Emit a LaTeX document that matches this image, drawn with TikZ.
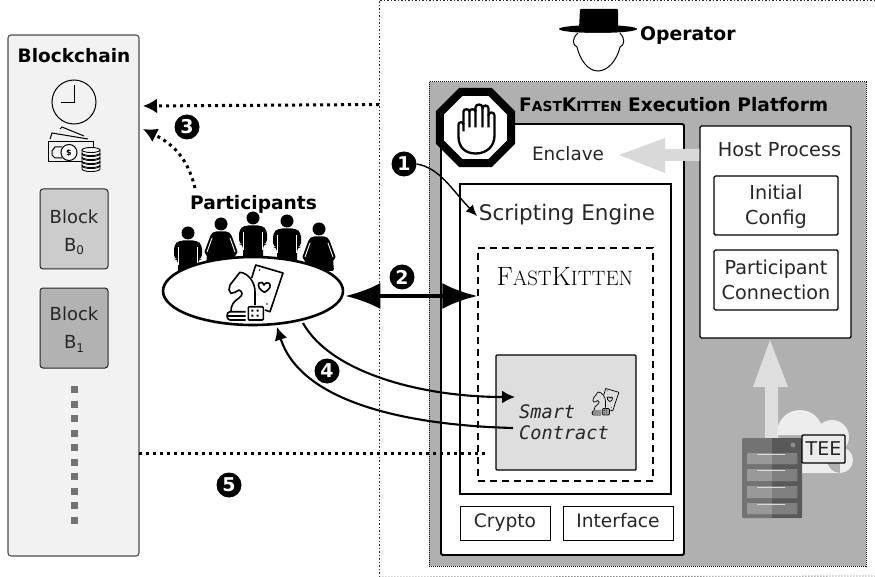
\documentclass[tikz,border=0pt]{standalone}
\usepackage{fontspec}
\setmainfont{DejaVu Sans}
\setmonofont{DejaVu Sans Mono}
\newfontfamily\lmfont{Latin Modern Roman}
\usetikzlibrary{arrows.meta,shapes.geometric,calc}
\definecolor{plat}{HTML}{B0B0B0}
\newcommand\fsz[1]{\fontsize{#1}{#1}\selectfont}
\newcommand\subd[1]{\raisebox{-3.5pt}{\fontsize{12}{12}\selectfont #1}}
\newcommand\icw{1.6pt}
\tikzset{
  box/.style={draw=black,line width=1.4pt,fill=white,rounded corners=1.5pt,inner sep=0pt},
  wbox/.style={box,align=center,text=black!85},
  blockbox/.style={draw=black!85,line width=1pt,fill=#1,rounded corners=3pt,minimum width=68pt,minimum height=80pt,inner sep=0pt},
  blocktxt/.style={align=center,inner sep=0pt,font=\fontsize{18}{28}\selectfont,text=black!85},
  smallbox/.style={box,rounded corners=0pt,line width=1pt,font=\fsz{18.6},text=black!85,minimum height=34pt,text height=13pt,text depth=5pt},
  numc/.style={circle,fill=black,text=white,inner sep=0pt,minimum size=25pt,font=\fontsize{19}{19}\selectfont\bfseries},
  conn/.style={draw=black,line width=2.1pt,-{Latex[length=13pt,width=13pt]}},
  dotline/.style={draw=black,line width=3pt,dash pattern=on 3pt off 4pt,-{Latex[length=14pt,width=15pt]}},
  man/.pic={
    \fill (0,0) circle (6.5);
    \fill[rounded corners=4pt] (-14,26) -- (-14,12) -- (-9,7.5) -- (9,7.5) -- (14,12) -- (14,26) -- (10,26) -- (10,45) -- (-10,45) -- (-10,26) -- cycle;
    \draw[white,line width=0.9pt] (-9.5,14) -- (-9.5,32) (9.5,14) -- (9.5,32);
  },
  woman/.pic={
    \fill (0,0) circle (6.5);
    \fill[rounded corners=2pt] (-7,7.5) -- (7,7.5) -- (10,10) -- (17,29) -- (14,30) -- (15,42) -- (-15,42) -- (-14,30) -- (-17,29) -- (-10,10) -- cycle;
    \draw[white,line width=0.9pt] (-9,14) -- (-14,28) (9,14) -- (14,28);
  },
  gameicon/.pic={
    \draw[line width=\icw,line join=round] (-1.3,-12) -- (2.7,-25) -- (30,-17) -- (17,21.7) -- (12,20);
    \fill (6.5,-20) circle (0.9) (14,14) circle (0.9);
    \draw[line width=\icw,line join=round] (11.3,2.3) .. controls (7,0) and (4,-4) .. (6,-7) .. controls (8,-9) and (11,-7) .. (11,-5) .. controls (12,-8) and (17,-8) .. (17,-5) .. controls (18,-2) and (14,1) .. (11.3,2.3) -- cycle;
    \draw[line width=\icw,line join=round] (2,15) -- (2,1.7) .. controls (2,-8) and (-5,-17) .. (-13,-17.7) -- (-14.7,-15.7) -- (-23,-5) -- (-24,0) -- (-22,3.3) -- (-18,2.3) -- (-14,0) .. controls (-10,2) and (-10,5) .. (-14,8) .. controls (-19,11) and (-22,15) .. (-22,21);
    \draw[line width=\icw,line join=round] (-7.3,21.7) -- (-23,21.7) .. controls (-27,21.7) and (-27,30) .. (-23,30) -- (-7.3,30) (-25,26) -- (-7.3,26);
    \draw[line width=\icw,fill=\dicefill,rounded corners=1pt] (-4.7,16.7) rectangle (10.3,30);
    \fill (-1.7,19.7) rectangle (0.3,21.7) (3.7,19.7) rectangle (5.7,21.7) (-1.7,24.7) rectangle (0.3,26.7) (3.7,24.7) rectangle (5.7,26.7);
  },
}
\newcommand\dicefill{white}
\begin{document}
\begin{tikzpicture}[x=1pt,y=-1pt]
\useasboundingbox (0,0) rectangle (875,577);
% operator frame
\coordinate (fa) at (379,577); \coordinate (fb) at (379,0.6); \coordinate (fc) at (875,0.6); \coordinate (fd) at (875,576);
\draw[black!85,line width=1pt,dash pattern=on 1.5pt off 2pt] (fa) -- (fb) -- (fc);
\draw[black!45,line width=0.8pt,dash pattern=on 1.5pt off 1.5pt] (fa) -- (fd);
% blockchain
\node[draw=black!70,line width=1.1pt,fill=black!5,rounded corners=3pt,minimum width=131pt,minimum height=521pt,inner sep=0pt] (bc) at (73.5,295.5) {};
\node[font=\fontsize{18.5}{18.5}\selectfont\bfseries,inner sep=0pt] (bct) at (74,56) {Blockchain};
\node[draw=black,line width=1pt,circle,minimum size=44pt,inner sep=0pt] (clk) at (74,102) {};
\draw[line width=1pt] (74,85) -- (74,103) -- (61,103);
% money
\draw[line width=1pt] (50,139) -- (52,133) -- (88,139);
\draw[line width=1pt] (60,129) -- (62,127) -- (84,136);
\draw[line width=1pt] (93,147) -- (93,142) -- (48,142) -- (48,162) -- (83,162);
\draw[line width=1pt] (62,147) -- (55,147) -- (52,151) -- (52,155) -- (55,158) -- (62,158);
\draw[line width=1pt,fill=white] (69,152.5) circle (8);
\node[font=\fontsize{8}{8}\selectfont\bfseries,inner sep=0pt] (dol) at (69,153) {\$};
\foreach \y in {166,162,158,154,150}{ \draw[line width=0.9pt,fill=white] (82,\y) -- (82,\y+3) arc[start angle=180,end angle=360,x radius=9,y radius=-2.5] -- (100,\y) ; \draw[line width=0.9pt,fill=white] (91,\y) ellipse (9 and 2.5);}
\node[blockbox=black!20] (b0) at (74,229) {};
\node[blocktxt] (bt0) at (74,232) {Block\\B\subd{0}};
\node[blockbox=black!30] (b1) at (74,328) {};
\node[blocktxt] (bt1) at (74,329.5) {Block\\B\subd{1}};
\coordinate (da) at (74,386); \coordinate (db) at (74,525);
\draw[black!55,line width=7pt,dash pattern=on 7pt off 7.5pt] (da) -- (db);
% platform
\node[draw=black,line width=1pt,densely dotted,fill=plat,minimum width=437pt,minimum height=484pt,inner sep=0pt] (pf) at (647.5,324) {};
\node[anchor=west,inner sep=0pt,font=\bfseries] (pft) at (519,105) {\fsz{18.6}F\fsz{13.8}AST\fsz{18.6}K\fsz{13.8}ITTEN\fsz{18.6}\ Execution Platform};
% operator
\fill[black,rounded corners=1pt] (579,29) -- (580,9) -- (618,9) -- (618,29) -- cycle;
\fill[black] (598,29) ellipse (39 and 4);
\draw[line width=1pt,fill=white] (578,33) .. controls (572,38) and (572,45) .. (577,47) .. controls (580,60) and (588,71) .. (598,71) .. controls (608,71) and (617,60) .. (620,47) .. controls (625,45) and (625,38) .. (620,33);
\node[anchor=west,inner sep=0pt,font=\fontsize{18.8}{18.8}\selectfont\bfseries] (opt) at (640,35) {Operator};
% enclave
\node[box,minimum width=243pt,minimum height=431pt,line width=1.8pt] (enc) at (562.5,339.5) {};
\node[font=\fsz{18.4},text=black!85,inner sep=0pt] (enct) at (568,154) {Enclave};
\node[box,minimum width=151pt,minimum height=212pt] (host) at (775.5,232) {};
\node[font=\fsz{19.3},text=black!85,inner sep=0pt] (hostt) at (779.5,150) {Host Process};
\node[box,minimum width=124pt,minimum height=59pt] (ini) at (776,205.5) {};
\node[align=center,inner sep=0pt,text=black!85,font=\fontsize{19.2}{25}\selectfont] (init) at (776,207) {Initial\\Config};
\node[wbox,minimum width=124pt,minimum height=60pt,font=\fontsize{19.2}{25}\selectfont] (pc) at (776,280) {Participant\\Connection};
% gray arrow host to enclave
\fill[black!15] (host.west |- 0,149) -- (665,149) -- (665,138) -- (619,155) -- (665,173) -- (665,161) -- (host.west |- 0,161) -- cycle;
% stop sign
\node[regular polygon,regular polygon sides=8,draw=black,line width=8pt,fill=white,minimum size=77pt,inner sep=0pt] (stop) at (475.5,127.5) {};
\begin{scope}[shift={(475.5,127.5)}]
\draw[line width=2.3pt,fill=white,line join=round] (-12,4) -- (-12,-3) .. controls (-12,-6) and (-17,-6) .. (-17,-3) -- (-17,9) .. controls (-17,20) and (-10,26) .. (0,26) .. controls (12,26) and (19,18) .. (19,8) -- (19,-12) .. controls (19,-16) and (13,-16) .. (13,-12) -- (13,-19) .. controls (13,-23) and (7,-23) .. (7,-19) -- (7,-20) .. controls (7,-24) and (0,-24) .. (0,-20) -- (0,-16) .. controls (0,-19) and (-6,-19) .. (-6,-16) -- (-6,0);
\draw[line width=2.3pt] (-12,-3) -- (-12,-16) .. controls (-12,-19) and (-6,-19) .. (-6,-16) (0,-18) -- (0,0) (7,-20) -- (7,0) (13,-13) -- (13,0);
\end{scope}
% scripting engine
\node[box,rounded corners=0pt,minimum width=211pt,minimum height=310pt,line width=1.8pt] (se) at (565.5,339) {};
\node[font=\fsz{21.5},text=black!85,inner sep=0pt] (set) at (567,215) {Scripting Engine};
\node[draw=black,line width=1.4pt,dash pattern=on 7pt off 5pt,minimum width=175pt,minimum height=233pt,inner sep=0pt] (fk) at (565.5,364.5) {};
\node[inner sep=0pt,text=black,font=\lmfont] (fkt) at (565,277) {\fsz{26.5}F\fsz{20.8}AST\fsz{26.5}K\fsz{20.8}ITTEN};
\node[draw=black,line width=1.4pt,fill=black!13,rounded corners=1pt,minimum width=140pt,minimum height=115pt,inner sep=0pt] (sc) at (566,412.5) {};
\node[anchor=west,align=left,inner sep=0pt,font=\ttfamily\itshape\fontsize{18.6}{21}\selectfont,text=black!85] (sct) at (519,422) {Smart\\Contract};
\begin{scope}
\renewcommand\icw{0.7pt}\renewcommand\dicefill{black!35}
\pic[scale=0.48,transform shape] at (604.5,400.5) {gameicon};
\end{scope}
\node[smallbox,minimum width=90pt] (cr) at (505,523) {Crypto};
\node[smallbox,minimum width=110pt] (ifc) at (618,523) {Interface};
% TEE
\fill[black!13] (765,450) -- (765,387) -- (753,387) -- (770,340) -- (788,387) -- (778,387) -- (778,450) -- cycle;
\fill[black!7] (800,433) circle (23) (832,437) circle (17) (840,460) circle (13) (778,435) rectangle (840,473);
\fill[black!55,rounded corners=1pt] (742,438) rectangle (802,518);
\fill[black!65] (772,438) rectangle (802,518);
\fill[black!40] (747,453) rectangle (797,464) (747,469) rectangle (797,481) (747,486) rectangle (797,498) (747,503) rectangle (797,514);
\fill[black!50] (772,453) rectangle (797,464) (772,469) rectangle (797,481) (772,486) rectangle (797,498) (772,503) rectangle (797,514);
\fill[black!45] (793,445) circle (2.5);
\draw[black!15,line width=1pt] (757,454) -- (785,454) (757,470) -- (785,470) (757,487) -- (785,487) (757,504) -- (785,504);
\node[draw=black,line width=1.4pt,fill=black!8,rounded corners=1pt,minimum width=43pt,minimum height=28pt,inner sep=0pt,font=\fsz{19},text=black!85] (tee) at (823.5,449) {TEE};
% participants
\pic at (188,233) {man};
\pic at (221,224) {woman};
\pic at (253,218) {man};
\pic at (287,221) {man};
\pic at (319,229) {woman};
\node[draw=black,line width=2.6pt,fill=white,ellipse,minimum width=180pt,minimum height=68pt,inner sep=0pt] (part) at (253,291) {};
\pic at (253,290) {gameicon};
\node[inner sep=0pt,font=\fontsize{18.6}{18.6}\selectfont\bfseries] (partt) at (253.5,204) {Participants};
% numbers
\node[numc] (n1) at (404,164) {1};
\node[numc] (n2) at (402,277) {2};
\node[numc] (n3) at (187,127) {3};
\node[numc] (n4) at (327,371) {4};
\node[numc] (n5) at (229,485) {5};
% connectors
\coordinate (d1) at (379,104.5); \coordinate (d2) at (143,106);
\draw[dotline] (d1) -- (d2);
\coordinate (p1) at (195,188); \coordinate (d3) at (143,129);
\draw[dotline] (p1) .. controls (188,160) and (175,145) .. (d3);
\coordinate (t1) at (477,216);
\draw[draw=black,line width=1.4pt,-{Latex[length=11pt,width=10pt]}] (n1.east) .. controls (440,168) and (452,190) .. (t1);
\draw[line width=3.5pt,{Latex[length=35pt,width=26pt]}-{Latex[length=35pt,width=26pt]}] (part.east |- 0,296) ++(1,0) coordinate (a2) -- (fk.west |- 0,296);
\coordinate (a4) at (303,323); \coordinate (b4) at (515,397);
\draw[conn] (a4) .. controls (330,372) and (420,397) .. (b4);
\coordinate (a5) at (513,428); \coordinate (b5) at (277,327);
\draw[conn] (a5) .. controls (400,425) and (300,400) .. (b5);
\coordinate (a6) at (139,453); \coordinate (b6) at (487,453);
\draw[black,line width=3pt,dash pattern=on 3pt off 4pt] (a6) -- (b6);
\end{tikzpicture}
\end{document}
